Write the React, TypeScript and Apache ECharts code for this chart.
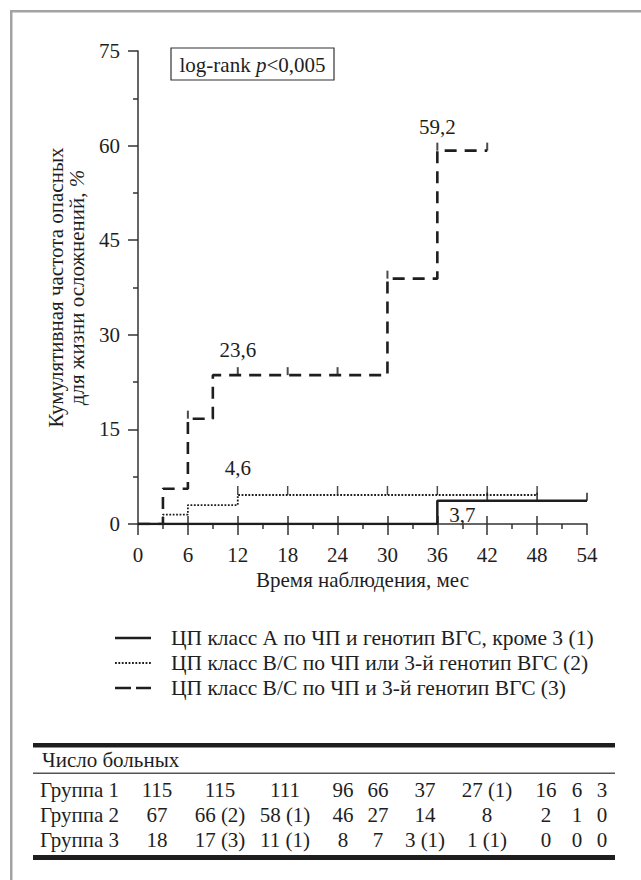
import React, { useEffect, useRef } from 'react';
import * as echarts from 'echarts';

// ---- Data ----
const group1: number[][] = [[0, 0], [36, 3.7], [54, 3.7]];
const group2: number[][] = [[0, 0], [3, 1.5], [6, 3.0], [12, 4.6], [48, 4.6]];
const group3: number[][] = [[0, 0], [3, 5.6], [6, 16.7], [9, 23.6], [30, 38.9], [36, 59.2], [42, 59.2]];
const censor1: number[][] = [[42, 3.7], [48, 3.7], [54, 3.7]];
const censor2: number[][] = [[12, 4.6], [18, 4.6], [24, 4.6], [30, 4.6], [36, 4.6], [42, 4.6], [48, 4.6]];
const censor3: number[][] = [[6, 16.7], [12, 23.6], [18, 23.6], [24, 23.6], [30, 38.9], [36, 59.2], [42, 59.2]];
const annotations: (number | string)[][] = [[36, 59.2, '59,2'], [12, 23.6, '23,6'], [12, 4.6, '4,6'], [39, 3.7, '3,7']];
const xMajorTicks = [6, 12, 18, 24, 30, 36, 42, 48];
const legendNames = [
  'ЦП класс А по ЧП и генотип ВГС, кроме 3 (1)',
  'ЦП класс В/С по ЧП или 3-й генотип ВГС (2)',
  'ЦП класс В/С по ЧП и 3-й генотип ВГС (3)',
];
const tableTitle = 'Число больных';
const rowNames = ['Группа 1', 'Группа 2', 'Группа 3'];
const atRisk1 = ['115', '115', '111', '96', '66', '37', '27 (1)', '16', '6', '3'];
const atRisk2 = ['67', '66 (2)', '58 (1)', '46', '27', '14', '8', '2', '1', '0'];
const atRisk3 = ['18', '17 (3)', '11 (1)', '8', '7', '3 (1)', '1 (1)', '0', '0', '0'];

// ---- Layout / style ----
const FONT = 'Liberation Serif';
const FS = 21;
const INK = '#1e1e1e';
const AXIS = '#333';
const labelOffsets = [[0, -24], [0, -25], [0, -27], [0, 14]];
const colX = [157, 220, 285, 343, 378, 425, 487, 546, 577, 602];
const rowY = [790, 815, 840];
const legendY = [638, 663, 688];

export default function App() {
  const ref = useRef<HTMLDivElement>(null);
  useEffect(() => {
    if (!ref.current) return;
    const chart = echarts.init(ref.current, undefined, { renderer: 'svg' });

    const censorSeries = (data: number[][], w: number, h: number) => ({
      type: 'scatter',
      data,
      symbol: 'rect',
      symbolSize: [w, h],
      symbolOffset: [0, -h / 2],
      itemStyle: { color: INK },
      silent: true,
      z: 4,
    });

    const txt = (text: string, x: number, y: number, align: string, size = FS) => ({
      type: 'text', x, y,
      style: { text, fontFamily: FONT, fontSize: size, fill: INK, align, verticalAlign: 'middle' },
    });

    const graphic: any[] = [];
    // frame
    graphic.push({ type: 'rect', shape: { x: 10, y: 10, width: 631, height: 2.5 }, style: { fill: '#a3a3a3' } });
    graphic.push({ type: 'rect', shape: { x: 10, y: 10, width: 2.5, height: 870 }, style: { fill: '#a3a3a3' } });
    // log-rank box
    graphic.push({
      type: 'rect', shape: { x: 171, y: 48, width: 163, height: 32 },
      style: { fill: '#fff', stroke: AXIS, lineWidth: 1.2 },
    });
    graphic.push({
      type: 'text', x: 252.5, y: 64.5,
      style: {
        text: '{n|log-rank }{i|p}{n|<0,005}', align: 'center', verticalAlign: 'middle',
        rich: {
          n: { fontFamily: FONT, fontSize: FS, fill: INK },
          i: { fontFamily: FONT, fontSize: FS, fontStyle: 'italic', fill: INK },
        },
      },
    });
    // legend
    const dashes = [null, [1.8, 1.6], [16, 5]];
    const widths = [2.5, 1.8, 2.6];
    legendNames.forEach((name, i) => {
      graphic.push({
        type: 'line', shape: { x1: 115, y1: legendY[i], x2: 151, y2: legendY[i] },
        style: { stroke: INK, lineWidth: widths[i], lineDash: dashes[i] || undefined },
      });
      graphic.push(txt(name, 171, legendY[i], 'left', 21.5));
    });
    // table
    graphic.push({ type: 'rect', shape: { x: 33, y: 743, width: 582, height: 4.5 }, style: { fill: INK } });
    graphic.push(txt(tableTitle, 42, 760, 'left'));
    graphic.push({ type: 'rect', shape: { x: 33, y: 772.5, width: 582, height: 1.5 }, style: { fill: '#555' } });
    [atRisk1, atRisk2, atRisk3].forEach((row, r) => {
      graphic.push(txt(rowNames[r], 40, rowY[r], 'left'));
      row.forEach((v, c) => graphic.push(txt(v, colX[c], rowY[r], 'center')));
    });
    graphic.push({ type: 'rect', shape: { x: 33, y: 855, width: 582, height: 5 }, style: { fill: INK } });

    const axisText = { fontFamily: FONT, fontSize: FS, color: INK };

    chart.setOption({
      animation: false,
      backgroundColor: '#fff',
      textStyle: { fontFamily: FONT },
      grid: { left: 138, right: 54, top: 51, bottom: 356, containLabel: false },
      xAxis: [
        {
          type: 'value', min: 0, max: 54, interval: 6,
          axisLine: { show: true, lineStyle: { color: AXIS, width: 1.5 } },
          axisTick: { show: true, length: 11, lineStyle: { color: AXIS, width: 1.5 } },
          minorTick: { show: true, splitNumber: 2, length: 5, lineStyle: { color: AXIS, width: 1.5 } },
          axisLabel: { margin: 20, ...axisText },
          splitLine: { show: false },
          minorSplitLine: { show: false },
          name: 'Время наблюдения, мес', nameLocation: 'middle', nameGap: 45,
          nameTextStyle: { fontFamily: FONT, fontSize: FS, color: INK },
        },
        {
          type: 'value', min: 0, max: 54, position: 'bottom',
          axisLine: { show: false },
          axisTick: { show: true, inside: true, length: 8, customValues: xMajorTicks, lineStyle: { color: AXIS, width: 1.5 } },
          axisLabel: { show: false },
          splitLine: { show: false },
        },
      ],
      yAxis: {
        type: 'value', min: 0, max: 75, interval: 15,
        axisLine: { show: true, lineStyle: { color: AXIS, width: 1.5 } },
        axisTick: { show: true, length: 10, lineStyle: { color: AXIS, width: 1.5 } },
        minorTick: { show: true, splitNumber: 2, length: 5, lineStyle: { color: AXIS, width: 1.5 } },
        axisLabel: { margin: 18, ...axisText },
        splitLine: { show: false },
        minorSplitLine: { show: false },
        name: 'Кумулятивная частота опасных\nдля жизни осложнений, {i|%}',
        nameLocation: 'middle', nameGap: 51, nameRotate: 90,
        nameTextStyle: {
          fontFamily: FONT, fontSize: FS, color: INK, lineHeight: 21,
          rich: { i: { fontFamily: FONT, fontSize: FS, fontStyle: 'italic', color: INK, lineHeight: 21 } },
        },
      },
      series: [
        {
          name: legendNames[0], type: 'line', step: 'end', data: group1, showSymbol: false, symbol: 'none',
          lineStyle: { color: INK, width: 2.5, type: 'solid' }, z: 3,
        },
        {
          name: legendNames[1], type: 'line', step: 'end', data: group2, showSymbol: false, symbol: 'none',
          lineStyle: { color: INK, width: 1.8, type: [1.8, 1.6] }, z: 3,
        },
        {
          name: legendNames[2], type: 'line', step: 'end', data: group3, showSymbol: false, symbol: 'none',
          lineStyle: { color: INK, width: 2.6, type: [12, 8] }, z: 3,
        },
        censorSeries(censor1, 1.8, 8),
        censorSeries(censor2, 1.5, 9),
        censorSeries(censor3, 2, 8),
      ],
      graphic,
    });

    // value annotations placed through the chart's own scales
    const annGraphics = annotations.map((a, i) => {
      const p = chart.convertToPixel({ gridIndex: 0 }, [a[0] as number, a[1] as number]) as number[];
      return txt(String(a[2]), p[0] + labelOffsets[i][0], p[1] + labelOffsets[i][1], 'center');
    });
    chart.setOption({ graphic: [...graphic, ...annGraphics] });

    return () => chart.dispose();
  }, []);
  return <div ref={ref} style={{ position: 'absolute', left: 0, top: 0, width: 641, height: 880 }} />;
}
